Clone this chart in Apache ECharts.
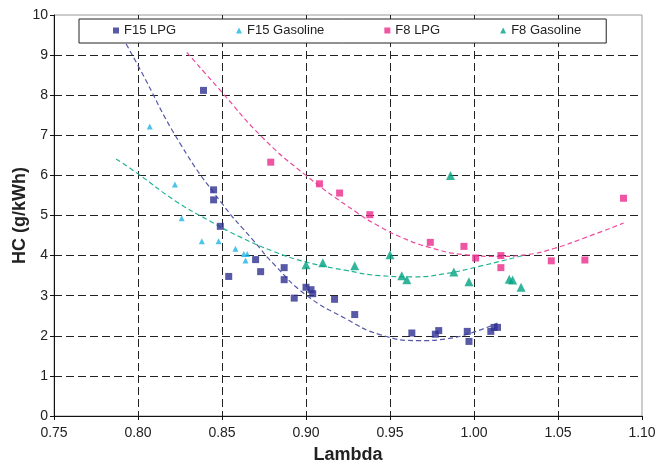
<!DOCTYPE html>
<html>
<head>
<meta charset="utf-8">
<script src="https://cdn.jsdelivr.net/npm/echarts@6/dist/echarts.min.js"></script>
<style>
  html, body { margin: 0; padding: 0; background: #fff; }
  #chart { width: 660px; height: 465px; }
</style>
</head>
<body>
<div id="chart"></div>
<script>
// measured points, [lambda, HC g/kWh]
const f15Lpg = [[0.839,8.12],[0.845,5.64],[0.845,5.39],[0.849,4.73],[0.854,3.48],[0.870,3.90],[0.873,3.60],
  [0.887,3.70],[0.887,3.40],[0.893,2.94],[0.900,3.21],[0.903,3.15],[0.904,3.05],[0.917,2.91],[0.929,2.53],
  [0.963,2.07],[0.977,2.04],[0.979,2.13],[0.996,2.11],[0.997,1.86],[1.010,2.11],[1.012,2.21],[1.014,2.21]];
const f15Gasoline = [[0.807,7.22],[0.822,5.77],[0.826,4.93],[0.838,4.36],[0.848,4.36],[0.858,4.17],
  [0.863,4.04],[0.865,4.04],[0.864,3.88]];
const f8Lpg = [[0.879,6.33],[0.908,5.79],[0.920,5.56],[0.938,5.02],[0.974,4.33],[0.994,4.23],[1.001,3.94],
  [1.016,4.00],[1.016,3.70],[1.046,3.87],[1.066,3.89],[1.089,5.43]];
const f8Gasoline = [[0.900,3.77],[0.910,3.82],[0.929,3.75],[0.950,4.02],[0.957,3.50],[0.960,3.40],
  [0.986,6.00],[0.988,3.59],[0.997,3.35],[1.021,3.41],[1.023,3.39],[1.028,3.21]];

// trendlines
const f15LpgTrend = [[0.786,9.8],[0.800,8.74],[0.825,6.8],[0.850,5.3],[0.869,4.36],[0.881,3.78],[0.900,3.02],
  [0.924,2.42],[0.944,2.03],[0.968,1.88],[0.983,1.92],[0.999,2.08],[1.014,2.32]];
const f8LpgTrend = [[0.829,9.07],[0.849,8.12],[0.874,6.95],[0.900,6.0],[0.930,5.08],[0.944,4.72],[0.956,4.47],
  [0.973,4.21],[0.995,4.02],[1.015,3.98],[1.031,4.02],[1.047,4.17],[1.067,4.46],[1.089,4.81]];
const f8GasTrend = [[0.787,6.41],[0.800,6.04],[0.822,5.37],[0.842,4.88],[0.861,4.46],[0.881,4.10],[0.900,3.84],
  [0.924,3.63],[0.944,3.50],[0.964,3.47],[0.983,3.55],[1.003,3.73],[1.029,4.0]];

const seriesNames = ['F15 LPG', 'F15 Gasoline', 'F8 LPG', 'F8 Gasoline'];

const font = 'Liberation Sans, Arial, sans-serif';

const chart = echarts.init(document.getElementById('chart'), null, { renderer: 'canvas' });

function trend(name, data, color) {
  return {
    name: name, type: 'line', data: data, smooth: true, symbol: 'none', z: 2,
    lineStyle: { color: color, width: 1.2, type: [5, 3] }, silent: true
  };
}

const option = {
  backgroundColor: '#fff',
  animation: false,
  grid: { left: 54, right: 18, top: 15, bottom: 49, outerBoundsMode: 'none',
    show: true, borderColor: '#999', borderWidth: 1 },
  legend: {
    data: seriesNames,
    left: 79, top: 19,
    padding: [5, 25, 6, 34],
    itemGap: 60, itemWidth: 6, itemHeight: 6,
    borderColor: '#222', borderWidth: 1, backgroundColor: '#fff',
    textStyle: { fontFamily: font, fontSize: 13, color: '#222' },
    z: 20
  },
  xAxis: {
    type: 'value', min: 0.75, max: 1.10, interval: 0.05,
    name: 'Lambda', nameLocation: 'middle', nameGap: 30, nameMoveOverlap: false,
    nameTextStyle: { fontFamily: font, fontSize: 18, fontWeight: 'bold', color: '#222' },
    axisLine: { lineStyle: { color: '#111', width: 1 } },
    axisTick: { show: true, length: 4, lineStyle: { color: '#111' } },
    axisLabel: { fontFamily: font, fontSize: 14, color: '#222', margin: 10,
      formatter: v => v.toFixed(2) },
    splitLine: { show: true, showMinLine: false, showMaxLine: false,
      lineStyle: { color: '#222', width: 1, type: [8, 4] } }
  },
  yAxis: {
    type: 'value', min: 0, max: 10, interval: 1,
    name: 'HC (g/kWh)', nameLocation: 'middle', nameGap: 25, nameMoveOverlap: false,
    nameTextStyle: { fontFamily: font, fontSize: 18, fontWeight: 'bold', color: '#222' },
    axisLine: { show: true, lineStyle: { color: '#111', width: 1 } },
    axisTick: { show: true, length: 4, lineStyle: { color: '#111' } },
    axisLabel: { fontFamily: font, fontSize: 14, color: '#222', margin: 6 },
    splitLine: { show: true, showMinLine: false, showMaxLine: false,
      lineStyle: { color: '#222', width: 1, type: [8, 4] } }
  },
  series: [
    trend('F15 LPG trend', f15LpgTrend, '#5558aa'),
    trend('F8 LPG trend', f8LpgTrend, '#ee4a9c'),
    trend('F8 Gasoline trend', f8GasTrend, '#22b394'),
    { name: 'F15 LPG', type: 'scatter', data: f15Lpg, symbol: 'rect', symbolSize: 7, z: 3,
      itemStyle: { color: '#2e3192' } },
    { name: 'F15 Gasoline', type: 'scatter', data: f15Gasoline, symbol: 'triangle', symbolSize: 6, z: 3,
      itemStyle: { color: '#1fb4e6' } },
    { name: 'F8 LPG', type: 'scatter', data: f8Lpg, symbol: 'rect', symbolSize: 7, z: 3,
      itemStyle: { color: '#ec2a8c' } },
    { name: 'F8 Gasoline', type: 'scatter', data: f8Gasoline, symbol: 'triangle', symbolSize: 9, z: 3,
      itemStyle: { color: '#00a383' } }
  ]
};

chart.setOption(option);
</script>
</body>
</html>
